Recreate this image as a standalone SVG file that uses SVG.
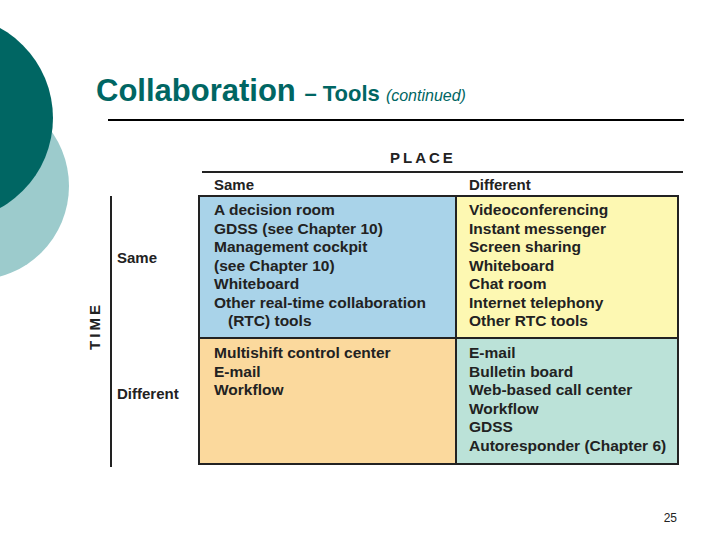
<svg xmlns="http://www.w3.org/2000/svg" width="720" height="540" viewBox="0 0 720 540">
<style>
.t{font-family:"Liberation Sans",Arial,sans-serif;font-size:15.5px;font-weight:bold;fill:#222}
.h{font-family:"Liberation Sans",Arial,sans-serif;font-size:15px;font-weight:bold;fill:#222}
</style>
<rect width="720" height="540" fill="#fff"/>
<circle cx="-25" cy="186" r="94" fill="#9ccbcc"/>
<circle cx="-50" cy="118" r="103" fill="#006663"/>
<text x="96" y="101" font-family="Liberation Sans,Arial,sans-serif" font-size="31" font-weight="bold" fill="#006663">Collaboration <tspan font-size="22">– Tools </tspan><tspan font-size="16" font-weight="normal" font-style="italic">(continued)</tspan></text>
<line x1="108" y1="120" x2="684" y2="120" stroke="#000" stroke-width="2"/>
<g id="grid">
<rect id="ss" x="199" y="196" width="257" height="142" fill="#a9d3e9"/>
<rect id="sd" x="456" y="196" width="222" height="142" fill="#fdf8b2"/>
<rect id="ds" x="199" y="338" width="257" height="126" fill="#fbd99d"/>
<rect id="dd" x="456" y="338" width="222" height="126" fill="#bbe2d8"/>
<rect x="199" y="196" width="479" height="268" fill="none" stroke="#222" stroke-width="2"/>
<line x1="456" y1="196" x2="456" y2="464" stroke="#222" stroke-width="2"/>
<line x1="199" y1="338" x2="678" y2="338" stroke="#222" stroke-width="2"/>
</g>
<line x1="202" y1="172" x2="683" y2="172" stroke="#222" stroke-width="2"/>
<line x1="111" y1="196" x2="111" y2="467" stroke="#222" stroke-width="2"/>
<text class="h" x="390" y="163" letter-spacing="3">PLACE</text>
<text class="h" x="214" y="190">Same</text>
<text class="h" x="469" y="190">Different</text>
<text class="h" x="100" y="326" transform="rotate(-90 100 326)" text-anchor="middle" letter-spacing="3">TIME</text>
<text class="h" x="117" y="263">Same</text>
<text class="h" x="117" y="399">Different</text>
<text class="t" x="214" y="215">A decision room<tspan x="214" dy="18.5">GDSS (see Chapter 10)</tspan><tspan x="214" dy="18.5">Management cockpit</tspan><tspan x="214" dy="18.5">(see Chapter 10)</tspan><tspan x="214" dy="18.5">Whiteboard</tspan><tspan x="214" dy="18.5">Other real-time collaboration</tspan><tspan x="228" dy="18.5">(RTC) tools</tspan></text>
<text class="t" x="469" y="215">Videoconferencing<tspan x="469" dy="18.5">Instant messenger</tspan><tspan x="469" dy="18.5">Screen sharing</tspan><tspan x="469" dy="18.5">Whiteboard</tspan><tspan x="469" dy="18.5">Chat room</tspan><tspan x="469" dy="18.5">Internet telephony</tspan><tspan x="469" dy="18.5">Other RTC tools</tspan></text>
<text class="t" x="214" y="358">Multishift control center<tspan x="214" dy="18.5">E-mail</tspan><tspan x="214" dy="18.5">Workflow</tspan></text>
<text class="t" x="469" y="358">E-mail<tspan x="469" dy="18.5">Bulletin board</tspan><tspan x="469" dy="18.5">Web-based call center</tspan><tspan x="469" dy="18.5">Workflow</tspan><tspan x="469" dy="18.5">GDSS</tspan><tspan x="469" dy="18.5">Autoresponder (Chapter 6)</tspan></text>
<text x="677" y="522" text-anchor="end" font-family="Liberation Sans,Arial,sans-serif" font-size="12" fill="#222">25</text>
</svg>
